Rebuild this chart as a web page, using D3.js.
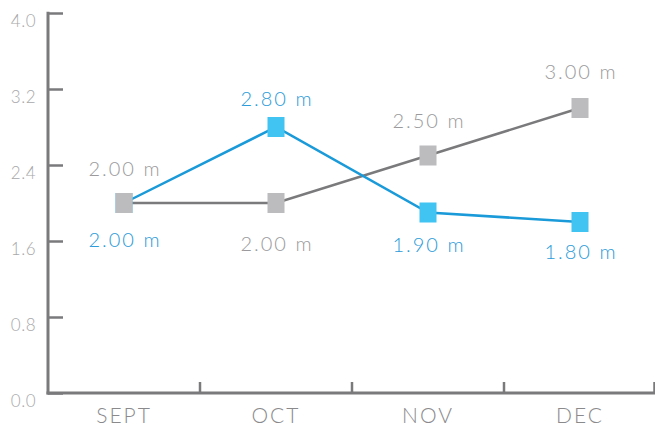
<!DOCTYPE html>
<html><head><meta charset="utf-8">
<script src="https://cdn.jsdelivr.net/npm/d3@7"></script>
<style>
html,body{margin:0;padding:0;background:#fff;}
svg{display:block;font-family:Lato,"Open Sans",sans-serif;}
</style></head>
<body><svg id="c" width="655" height="430"></svg>
<script>
const months = ["SEPT","OCT","NOV","DEC"];
const blueValues = [2.0, 2.8, 1.9, 1.8];
const greyValues = [2.0, 2.0, 2.5, 3.0];
const yTicks = [0, 0.8, 1.6, 2.4, 3.2, 4.0];

// label placement (layout only): baseline offset from marker centre
const blueLabelDy = [44, -21, 39, 37];
const greyLabelDy = [-27, 48, -28, -29];

const svg = d3.select("#c");
const m = {left:48, top:13, bottom:37};
const W = 655, H = 430;
const x = d3.scaleBand().domain(months).range([m.left, 656]).padding(0);
const y = d3.scaleLinear().domain([0,4]).range([H-m.bottom, m.top]);
const axisCol = "#7a7a7c";

// Y axis
const yAx = svg.append("g").attr("transform",`translate(${m.left},0)`)
  .call(d3.axisRight(y).tickValues(yTicks).tickSize(15).tickFormat(""));
yAx.select(".domain").remove();
yAx.selectAll("line").attr("stroke",axisCol).attr("stroke-width",2.5);
svg.append("line").attr("x1",m.left).attr("x2",m.left).attr("y1",y(4)-1.25).attr("y2",y(0)+1.5)
  .attr("stroke",axisCol).attr("stroke-width",3);
svg.append("g").selectAll("text").data(yTicks).join("text")
  .attr("x",36).attr("y",d=>y(d)+14).attr("text-anchor","end")
  .attr("font-size",17).attr("fill","#a8a8aa").attr("font-weight",300).attr("letter-spacing","0.5px")
  .text(d=>d3.format(".1f")(d));

// X axis
svg.append("line").attr("x1",m.left-1.5).attr("x2",656).attr("y1",y(0)).attr("y2",y(0))
  .attr("stroke",axisCol).attr("stroke-width",3);
svg.append("g").selectAll("line").data(months.slice(1)).join("line")
  .attr("x1",d=>x(d)).attr("x2",d=>x(d)).attr("y1",y(0)).attr("y2",y(0)-11)
  .attr("stroke",axisCol).attr("stroke-width",2.5);
svg.append("line").attr("x1",654.5).attr("x2",654.5).attr("y1",y(0)).attr("y2",y(0)-11)
  .attr("stroke",axisCol).attr("stroke-width",2.5);
svg.append("g").selectAll("text").data(months).join("text")
  .attr("x",d=>x(d)+x.bandwidth()/2).attr("y",423).attr("text-anchor","middle")
  .attr("font-size",21).attr("fill","#8a8a8c").attr("font-weight",300).attr("letter-spacing","2px")
  .text(d=>d);

const cx = d=>x(d)+x.bandwidth()/2;
const line = d3.line().x((d,i)=>cx(months[i])).y(d=>y(d));

svg.append("path").attr("d",line(greyValues)).attr("fill","none").attr("stroke","#7a7a7c").attr("stroke-width",2.5);
svg.append("path").attr("d",line(blueValues)).attr("fill","none").attr("stroke","#1a9ad8").attr("stroke-width",2.5);

const mw=17, mh=20;
function markers(vals,col){
  svg.append("g").selectAll("rect").data(vals).join("rect")
    .attr("x",(d,i)=>cx(months[i])-mw/2).attr("y",d=>y(d)-mh/2)
    .attr("width",mw).attr("height",mh).attr("fill",col);
}
markers(blueValues,"#41c4f2");
markers(greyValues,"#bcbcbf");

function labels(vals,dy,col){
  svg.append("g").selectAll("text").data(vals).join("text")
    .attr("x",(d,i)=>cx(months[i])+1).attr("y",(d,i)=>y(d)+dy[i])
    .attr("text-anchor","middle").attr("font-size",20).attr("fill",col).attr("letter-spacing","2px")
    .attr("font-weight",300)
    .text(d=>d3.format(".2f")(d)+" m");
}
labels(greyValues,greyLabelDy,"#9a9a9c");
labels(blueValues,blueLabelDy,"#2b9bd9");
</script></body></html>
